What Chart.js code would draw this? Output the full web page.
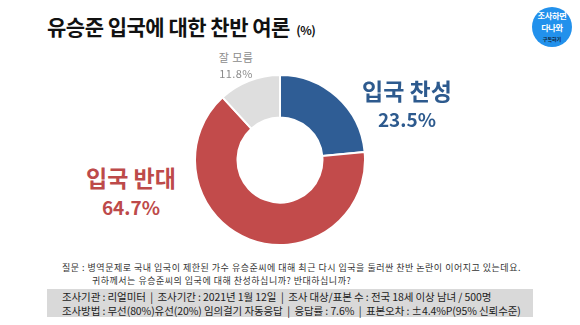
<!DOCTYPE html>
<html>
<head>
<meta charset="utf-8">
<script src="https://cdn.jsdelivr.net/npm/chart.js@4"></script>
<style>
  body { margin: 0; width: 580px; height: 325px; background: #fff; overflow: hidden;
         font-family: "Noto Sans CJK KR", "Noto Sans", sans-serif; position: relative; }
  .abs { position: absolute; white-space: nowrap; }
  #title { left: 47px; top: 11px; font-size: 21px; font-weight: 700; color: #111; letter-spacing: -0.5px; }
  #title small { font-size: 12px; margin-left: 2px; }
  #wrap { position: absolute; left: 194px; top: 74px; width: 172px; height: 172px; }
  .lbl { text-align: center; font-weight: 700; }
  #yes { left: 362px; top: 77px; color: #2d5a8e; font-size: 23px; line-height: 27px; }
  #yes span, #no span { font-size: 19px; }
  #no { left: 86px; top: 163px; color: #bd4a4a; font-size: 23px; line-height: 28px; }
  .dk { left: 218px; color: #8c8c8c; font-size: 11px; font-weight: 400; line-height: 16px; letter-spacing: 0.4px; text-align: center; width: 36px; }
  .q { font-size: 9px; color: #333; line-height: 13px; letter-spacing: 0.5px; }
  #box { position: absolute; left: 47px; top: 289px; width: 486px; height: 28px; background: #d9d9d9; }
  .info { font-size: 10.5px; color: #222; line-height: 14px; letter-spacing: -0.1px; }
  #badge { position: absolute; left: 532px; top: 7px; width: 40px; height: 40px; border-radius: 50%;
           background: #2291ec; color: #fff; font-weight: 700; }
  .b { position: absolute; left: 0; width: 40px; text-align: center; }
</style>
</head>
<body>
<div id="title" class="abs">유승준 입국에 대한 찬반 여론 <small>(%)</small></div>
<div id="badge">
  <div class="b" style="top:2px;font-size:8.2px;line-height:12px;letter-spacing:-0.3px">조사하면</div>
  <div class="b" style="top:14px;font-size:8.2px;line-height:12px;letter-spacing:-0.3px">다나와</div>
  <div class="b" style="top:28px;font-size:5px;line-height:8px;color:#123;">구독하기</div>
</div>
<div id="wrap"><canvas id="pie"></canvas></div>
<div id="yes" class="abs lbl"></div>
<div id="no" class="abs lbl"></div>
<div id="dk1" class="abs dk" style="top:49px"></div>
<div id="dk2" class="abs dk" style="top:65px"></div>
<div class="abs q" style="left:62px;top:261px">질문 : 병역문제로 국내 입국이 제한된 가수 유승준씨에 대해 최근 다시 입국을 둘러싼 찬반 논란이 이어지고 있는데요.</div>
<div class="abs q" style="left:92px;top:274px">귀하께서는 유승준씨의 입국에 대해 찬성하십니까? 반대하십니까?</div>
<div id="box"></div>
<div class="abs info" style="left:62px;top:290px">조사기관 : 리얼미터 &nbsp;| &nbsp;조사기간 : 2021년 1월 12일 &nbsp;| &nbsp;조사 대상/표본 수 : 전국 18세 이상 남녀 / 500명</div>
<div class="abs info" style="left:62px;top:304px">조사방법 : 무선(80%)유선(20%) 임의걸기 자동응답 &nbsp;| &nbsp;응답률 : 7.6% &nbsp;| &nbsp;표본오차 : ±4.4%P(95% 신뢰수준)</div>
<script>
const categories = ["입국 찬성", "입국 반대", "잘 모름"];
const values = [23.5, 64.7, 11.8];
const colors = ["#2f5d95", "#c24b4b", "#dedede"];

document.getElementById("yes").innerHTML = categories[0] + "<br><span>" + values[0].toFixed(1) + "%</span>";
document.getElementById("no").innerHTML = categories[1] + "<br><span>" + values[1].toFixed(1) + "%</span>";
document.getElementById("dk1").textContent = categories[2];
document.getElementById("dk2").textContent = values[2].toFixed(1) + "%";

new Chart(document.getElementById("pie"), {
  type: "doughnut",
  data: {
    labels: categories,
    datasets: [{
      data: values,
      backgroundColor: colors,
      borderColor: "#fff",
      borderWidth: 2
    }]
  },
  options: {
    responsive: true,
    maintainAspectRatio: false,
    animation: false,
    cutout: "50%",
    plugins: { legend: { display: false }, tooltip: { enabled: false } }
  }
});
</script>
</body>
</html>
